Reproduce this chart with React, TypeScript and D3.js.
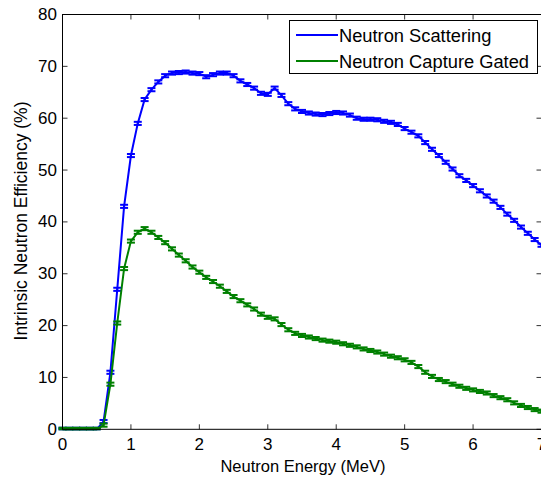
import React from 'react';
import * as d3 from 'd3';

// neutron energy (MeV) of each point
const energy = [
  0.0, 0.1, 0.2, 0.3, 0.4, 0.5, 0.6, 0.7, 0.8, 0.9,
  1.0, 1.1, 1.2, 1.3, 1.4, 1.5, 1.6, 1.7, 1.8, 1.9,
  2.0, 2.1, 2.2, 2.3, 2.4, 2.5, 2.6, 2.7, 2.8, 2.9,
  3.0, 3.1, 3.2, 3.3, 3.4, 3.5, 3.6, 3.7, 3.8, 3.9,
  4.0, 4.1, 4.2, 4.3, 4.4, 4.5, 4.6, 4.7, 4.8, 4.9,
  5.0, 5.1, 5.2, 5.3, 5.4, 5.5, 5.6, 5.7, 5.8, 5.9,
  6.0, 6.1, 6.2, 6.3, 6.4, 6.5, 6.6, 6.7, 6.8, 6.9,
  7.0,
];

const scattering = [
  0, 0, 0, 0, 0, 0, 1.5, 11, 27, 43,
  52.8, 59, 63.6, 65.5, 67, 68.2, 68.7, 68.8, 68.9, 68.7,
  68.6, 68.0, 68.4, 68.7, 68.7, 68.2, 67.2, 66.5, 65.8, 64.8,
  64.6, 65.8, 64.4, 62.8, 61.8, 61.3, 61.0, 60.8, 60.7, 60.9,
  61.1, 61.0, 60.6, 60.0, 59.8, 59.8, 59.7, 59.4, 59.2, 58.8,
  58.0, 57.3, 56.6, 55.3, 54.0, 52.8, 51.5, 50.2, 48.9, 48.0,
  47.0, 46.0, 45.0, 44.0, 42.8, 41.5, 40.3, 39.0, 37.8, 36.6,
  35.5,
];

const captureGated = [
  0, 0, 0, 0, 0, 0, 0.8, 8.7, 20.5, 31,
  36.3, 38, 38.7, 38.0, 37.0, 36.0, 34.8, 33.6, 32.5, 31.3,
  30.3, 29.3, 28.5, 27.6, 26.6, 25.6, 24.8, 24.0, 23.2, 22.2,
  21.6, 21.3, 20.2, 19.2, 18.5, 18.1, 17.8, 17.5, 17.2, 17.0,
  16.8, 16.5, 16.2, 15.9, 15.5, 15.2, 14.9, 14.5, 14.1, 13.8,
  13.4, 12.9, 12.1, 11.0, 10.2, 9.6, 9.2, 8.7, 8.3, 7.9,
  7.6, 7.3, 7.0, 6.5, 6.1, 5.7, 5.1, 4.6, 4.2, 3.8,
  3.5,
];

// half height of the error bars (%)
const errHalf = 0.3;

const xTicks = [0, 1, 2, 3, 4, 5, 6, 7];
const yTicks = [0, 10, 20, 30, 40, 50, 60, 70, 80];

const seriesNames = ['Neutron Scattering', 'Neutron Capture Gated'];
const seriesColors = ['#0000ff', '#008000'];

const W = 541;
const H = 480;
const FONT = 'Arial, "Liberation Sans", Helvetica, sans-serif';

export default function App() {
  const x = d3.scaleLinear().domain([0, 7]).range([62.5, 541.5]);
  const y = d3.scaleLinear().domain([0, 80]).range([429.3, 14.5]);

  const line = d3
    .line<number>()
    .x((_, i) => x(energy[i]))
    .y((v) => y(v));

  const capW = 4;
  const tickLen = 5;
  const [x0, x1] = x.range();
  const [y0, y1] = y.range();

  const allSeries = [scattering, captureGated];

  return (
    <svg
      width={W}
      height={H}
      style={{ position: 'absolute', left: 0, top: 0, background: '#fff' }}
      fontFamily={FONT}
    >
      <rect x={0} y={0} width={W} height={H} fill="#fff" />

      {/* ticks, inward on all four sides */}
      <g stroke="#333" strokeWidth={1}>
        {xTicks.map((t) => (
          <g key={'xt' + t}>
            <line x1={x(t)} x2={x(t)} y1={y0} y2={y0 - tickLen} />
            <line x1={x(t)} x2={x(t)} y1={y1} y2={y1 + tickLen} />
          </g>
        ))}
        {yTicks.map((t) => (
          <g key={'yt' + t}>
            <line x1={x0} x2={x0 + tickLen} y1={y(t)} y2={y(t)} />
            <line x1={x1} x2={x1 - tickLen} y1={y(t)} y2={y(t)} />
          </g>
        ))}
      </g>

      {/* series */}
      {allSeries.map((vals, s) => (
        <g key={'s' + s} stroke={seriesColors[s]} fill="none" strokeWidth={2}>
          <path d={line(vals) || ''} />
          {vals.map((v, i) => {
            const cx = x(energy[i]);
            const top = y(v + errHalf);
            const bot = y(Math.max(0, v - errHalf));
            return (
              <g key={i}>
                <line x1={cx} x2={cx} y1={top} y2={bot} />
                <line x1={cx - capW} x2={cx + capW} y1={top} y2={top} />
                <line x1={cx - capW} x2={cx + capW} y1={bot} y2={bot} />
              </g>
            );
          })}
        </g>
      ))}

      {/* axes box */}
      <rect
        x={x0}
        y={y1}
        width={x1 - x0}
        height={y0 - y1}
        fill="none"
        stroke="#000"
        strokeWidth={1}
      />

      {/* tick labels */}
      <g fontSize={17} fill="#000">
        {xTicks.map((t) => (
          <text key={'xl' + t} x={x(t)} y={450} textAnchor="middle">
            {t}
          </text>
        ))}
        {yTicks.map((t) => (
          <text
            key={'yl' + t}
            x={57}
            y={y(t)}
            textAnchor="end"
            dominantBaseline="central"
          >
            {t}
          </text>
        ))}
      </g>

      {/* axis titles */}
      <text x={303} y={472} fontSize={16.5} textAnchor="middle" fill="#000">
        Neutron Energy (MeV)
      </text>
      <text
        transform="translate(27,221) rotate(-90)"
        fontSize={17.5}
        textAnchor="middle"
        fill="#000"
      >
        Intrinsic Neutron Efficiency (%)
      </text>

      {/* legend */}
      <g>
        <rect x={289.5} y={20.5} width={248} height={53} fill="#fff" stroke="#000" strokeWidth={1} />
        {seriesNames.map((name, i) => {
          const ly = 35 + i * 26;
          return (
            <g key={name}>
              <line x1={296} x2={338} y1={ly} y2={ly} stroke={seriesColors[i]} strokeWidth={2} />
              <text x={339} y={ly} fontSize={18.3} dominantBaseline="central" fill="#000">
                {name}
              </text>
            </g>
          );
        })}
      </g>
    </svg>
  );
}
